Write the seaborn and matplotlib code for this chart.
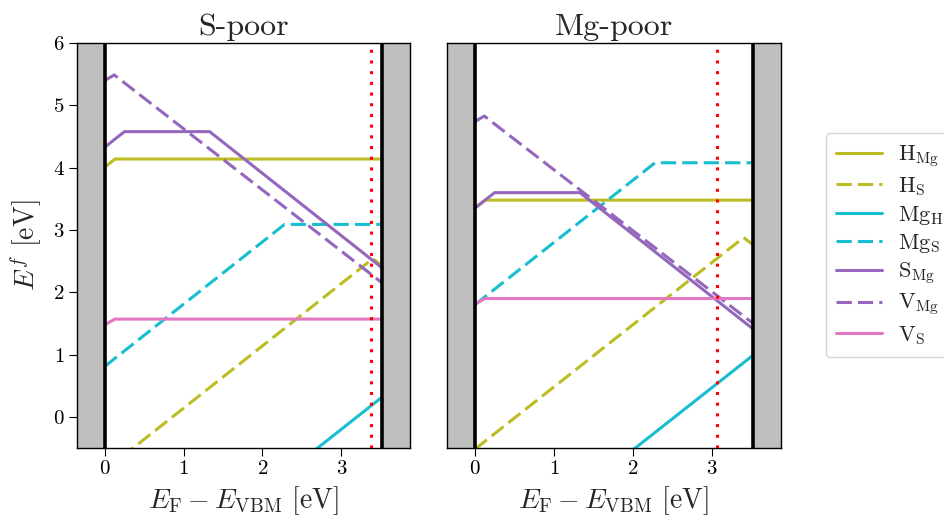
import numpy as np
import pandas as pd
import matplotlib
matplotlib.use("Agg")
import matplotlib.pyplot as plt
import seaborn as sns

# ---------------- data ----------------
band_gap = 3.52
fermi_level_spoor = 3.38
fermi_level_mgpoor = 3.06
panel_titles = ["S-poor", "Mg-poor"]

defects = ["H_Mg", "H_S", "Mg_H", "Mg_S", "S_Mg", "V_Mg", "V_S"]
defect_labels = [r"$\mathrm{H_{Mg}}$", r"$\mathrm{H_{S}}$", r"$\mathrm{Mg_{H}}$",
                 r"$\mathrm{Mg_{S}}$", r"$\mathrm{S_{Mg}}$", r"$\mathrm{V_{Mg}}$",
                 r"$\mathrm{V_{S}}$"]

# Fermi-level breakpoints (eV) of each piecewise-linear formation energy curve
ef_H_Mg = [0.0, 0.13, 3.52]
ef_H_S = [0.0, 3.40, 3.52]
ef_Mg_H = [0.0, 3.52]
ef_Mg_S = [0.0, 2.28, 3.52]
ef_S_Mg = [0.0, 0.25, 1.33, 3.52]
ef_V_Mg = [0.0, 0.12, 3.52]
ef_V_S = [0.0, 0.13, 3.52]

# formation energies at the breakpoints, S-poor
spoor_H_Mg = [4.01, 4.14, 4.14]
spoor_H_S = [-0.86, 2.54, 2.42]
spoor_Mg_H = [-3.20, 0.32]
spoor_Mg_S = [0.81, 3.09, 3.09]
spoor_S_Mg = [4.33, 4.58, 4.58, 2.39]
spoor_V_Mg = [5.40, 5.49, 2.15]
spoor_V_S = [1.48, 1.57, 1.57]

# formation energies at the breakpoints, Mg-poor
mgpoor_H_Mg = [3.35, 3.48, 3.48]
mgpoor_H_S = [-0.52, 2.88, 2.76]
mgpoor_Mg_H = [-2.53, 0.99]
mgpoor_Mg_S = [1.80, 4.08, 4.08]
mgpoor_S_Mg = [3.35, 3.60, 3.60, 1.41]
mgpoor_V_Mg = [4.74, 4.83, 1.50]
mgpoor_V_S = [1.81, 1.90, 1.90]

x_ticks = [0, 1, 2, 3]
y_ticks = [0, 1, 2, 3, 4, 5, 6]

# ---------------- build tables ----------------
ef_all = [ef_H_Mg, ef_H_S, ef_Mg_H, ef_Mg_S, ef_S_Mg, ef_V_Mg, ef_V_S]
spoor_all = [spoor_H_Mg, spoor_H_S, spoor_Mg_H, spoor_Mg_S, spoor_S_Mg, spoor_V_Mg, spoor_V_S]
mgpoor_all = [mgpoor_H_Mg, mgpoor_H_S, mgpoor_Mg_H, mgpoor_Mg_S, mgpoor_S_Mg, mgpoor_V_Mg, mgpoor_V_S]


def make_df(values_all):
    rows = []
    for name, lab, xs, ys in zip(defects, defect_labels, ef_all, values_all):
        for x, y in zip(xs, ys):
            rows.append({"defect": lab, "EF": x, "E": y})
    return pd.DataFrame(rows)


df_spoor = make_df(spoor_all)
df_mgpoor = make_df(mgpoor_all)

palette = {
    defect_labels[0]: "#bcbd22", defect_labels[1]: "#bcbd22",
    defect_labels[2]: "#17becf", defect_labels[3]: "#17becf",
    defect_labels[4]: "#9467bd", defect_labels[5]: "#9467bd",
    defect_labels[6]: "#e377c2",
}
dashes = {
    defect_labels[0]: "", defect_labels[1]: (5, 2),
    defect_labels[2]: "", defect_labels[3]: (5, 2),
    defect_labels[4]: "", defect_labels[5]: (5, 2),
    defect_labels[6]: "",
}

# ---------------- style ----------------
sns.set_style("ticks")
plt.rcParams.update({
    "font.family": "serif",
    "font.serif": ["cmr10", "DejaVu Serif"],
    "mathtext.fontset": "cm",
    "axes.formatter.use_mathtext": True,
    "xtick.major.size": 5.5,
    "ytick.major.size": 5.5,
    "xtick.labelsize": 15,
    "ytick.labelsize": 15,
    "axes.edgecolor": "black",
    "xtick.color": "black",
    "ytick.color": "black",
})

fig = plt.figure(figsize=(9.45, 5.26), dpi=100)
ax1 = fig.add_axes([0.0815, 0.1483, 0.3524, 0.7696])
ax2 = fig.add_axes([0.473, 0.1483, 0.3534, 0.7696])

margin = 0.1 * band_gap
xlo, xhi = -margin, band_gap + margin

for ax, df, ef_line, title in [(ax1, df_spoor, fermi_level_spoor, panel_titles[0]),
                               (ax2, df_mgpoor, fermi_level_mgpoor, panel_titles[1])]:
    ax.axvspan(xlo, 0, color="#bfbfbf", zorder=0, lw=0)
    ax.axvspan(band_gap, xhi, color="#bfbfbf", zorder=0, lw=0)
    sns.lineplot(data=df, x="EF", y="E", hue="defect", style="defect",
                 hue_order=defect_labels, style_order=defect_labels,
                 palette=palette, dashes=dashes, estimator=None, sort=False,
                 linewidth=2.2, ax=ax, legend=(ax is ax2))
    ax.axvline(0, color="black", lw=2.6, zorder=3)
    ax.axvline(band_gap, color="black", lw=2.6, zorder=3)
    ax.axvline(ef_line, color="red", lw=2.2, ls=(0, (1, 2.5)), zorder=4)
    ax.set_xlim(xlo, xhi)
    ax.set_ylim(-0.5, 6)
    ax.set_xticks(x_ticks)
    ax.set_yticks(y_ticks)
    ax.set_title(title, fontsize=23, pad=6)
    ax.set_xlabel(r"$E_{\mathrm{F}} - E_{\mathrm{VBM}}$ [eV]", fontsize=20, labelpad=4)
    for sp in ax.spines.values():
        sp.set_linewidth(1.0)

ax1.set_ylabel(r"$E^{f}$ [eV]", fontsize=20, labelpad=6)
ax2.set_ylabel("")
ax2.tick_params(left=False, labelleft=False)

handles, labels = ax2.get_legend_handles_labels()
ax2.get_legend().remove()
for h in handles:
    h.set_linewidth(2.2)
leg = fig.legend(handles, labels, loc="center left", bbox_to_anchor=(0.862, 0.534),
                 fontsize=16, frameon=True, handlelength=2.1, fancybox=True,
                 borderpad=0.45, labelspacing=0.25, handletextpad=0.7)
leg.get_frame().set_edgecolor("#cccccc")

fig.savefig("out.png", dpi=100)
